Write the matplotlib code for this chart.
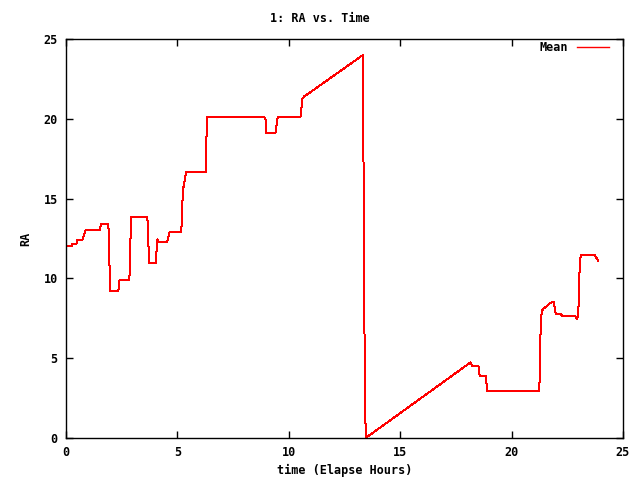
import matplotlib
matplotlib.use('Agg')
import matplotlib.pyplot as plt

# elapsed hours and mean RA
hours = [0, 0.25, 0.27, 0.47, 0.5, 0.73, 0.8, 0.88, 1.51, 1.58, 1.9, 1.93, 1.96, 1.99,
         2.35, 2.4, 2.84, 2.87, 2.9, 2.93, 3.65, 3.68, 3.71, 3.74, 4.02, 4.05, 4.08,
         4.11, 4.14, 4.52, 4.57, 4.65, 5.17, 5.2, 5.23, 5.26, 5.33, 5.39, 6.27, 6.29,
         6.31, 6.33, 8.92, 8.97, 8.99, 9.39, 9.43, 9.47, 9.5, 10.52, 10.55, 10.58,
         10.6, 10.68, 10.83, 13.33, 13.35, 13.4, 13.45, 18.16, 18.24, 18.51, 18.57,
         18.84, 18.91, 21.24, 21.27, 21.3, 21.35, 21.45, 21.6, 21.7, 21.9, 21.93,
         21.98, 22.2, 22.28, 22.85, 22.93, 22.98, 23.02, 23.05, 23.1, 23.74, 23.82,
         23.89]
ra = [12.03, 12.03, 12.15, 12.15, 12.4, 12.4, 12.7, 13.03, 13.03, 13.39, 13.39, 12.34,
      10.27, 9.19, 9.19, 9.88, 9.88, 10.84, 12.82, 13.83, 13.83, 13.08, 11.67, 10.94,
      10.94, 11.36, 12.15, 12.45, 12.26, 12.26, 12.45, 12.89, 12.89, 13.62, 14.95,
      15.62, 16.17, 16.67, 16.67, 17.42, 19.24, 20.09, 20.09, 19.88, 19.09, 19.09,
      19.3, 19.88, 20.09, 20.09, 20.34, 20.88, 21.22, 21.39, 21.53, 24.0, 18.0, 6.0,
      0.0, 4.74, 4.51, 4.51, 3.88, 3.88, 2.94, 2.94, 4.2, 6.72, 7.96, 8.13, 8.27,
      8.44, 8.54, 8.2, 7.77, 7.77, 7.64, 7.64, 7.44, 7.64, 8.65, 10.53, 11.45,
      11.45, 11.26, 11.11]

xticks = [0, 5, 10, 15, 20, 25]
yticks = [0, 5, 10, 15, 20, 25]

fnt = {'family': 'DejaVu Sans Mono', 'weight': 'bold', 'size': 8.5}

fig = plt.figure(figsize=(6.4, 4.8), dpi=100)
ax = fig.add_axes([66/640, 1-438/480, (623-66)/640, (438-39)/480])
ax.plot(hours, ra, color='red', lw=0.72, antialiased=False, label='Mean')
ax.set_xlim(0, 25)
ax.set_ylim(0, 25)
ax.set_xticks(xticks)
ax.set_yticks(yticks)
ax.tick_params(direction='in', length=5, width=1, top=True, right=True, pad=6)
for lab in ax.get_xticklabels() + ax.get_yticklabels():
    lab.set_fontproperties(fnt)
for s in ax.spines.values():
    s.set_linewidth(1)
ax.set_xlabel('time (Elapse Hours)', fontdict=fnt, labelpad=3)
ax.set_ylabel('RA', fontdict=fnt, labelpad=8)
fig.text(0.5, 1-18/480, '1: RA vs. Time', ha='center', va='center', fontdict=fnt)
leg = ax.legend(loc='upper right', bbox_to_anchor=(1-12/557, 1), frameon=False,
                markerfirst=False, prop=fnt, handlelength=2.7, handletextpad=0.7,
                borderaxespad=0, borderpad=0.2)
for h in leg.get_lines():
    h.set_linewidth(1)

plt.savefig('out.png')
